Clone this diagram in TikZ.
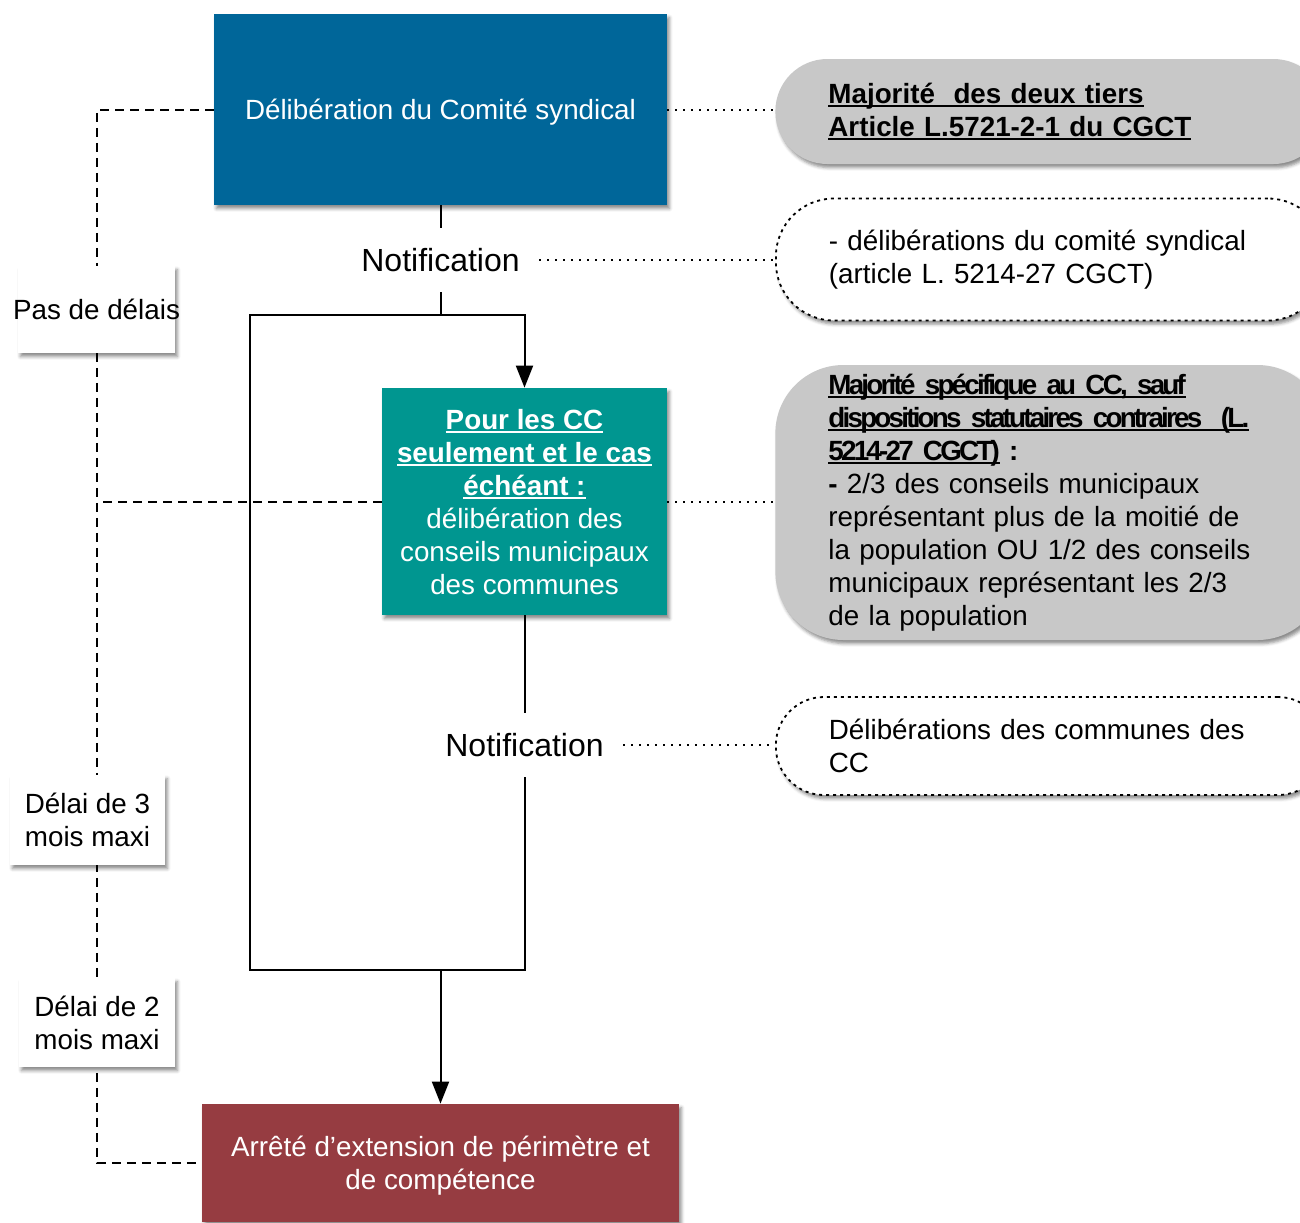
\documentclass[tikz,border=0pt]{standalone}
\usepackage{fontspec}
\setmainfont{Liberation Sans}
\newfontfamily\tightsans{Liberation Sans}[LetterSpace=-10, WordSpace=0.4]
\usetikzlibrary{arrows.meta,shadows.blur}

\definecolor{syndblue}{RGB}{0,102,153}
\definecolor{ccteal}{RGB}{0,150,144}
\definecolor{arretered}{RGB}{150,60,65}
\definecolor{notegray}{RGB}{200,200,200}

% underline drawn at a fixed depth below the baseline
\newsavebox\ulbox
\newcommand\ul[1]{\leavevmode\sbox\ulbox{#1}\rlap{\rule[-1.8pt]{\wd\ulbox}{0.9pt}}\usebox\ulbox}

\begin{document}
\begin{tikzpicture}[x=0.5pt,y=-0.5pt,
  base/.style={font=\fontsize{13.9}{16.5}\selectfont},
  softshadow/.style={blur shadow={shadow xshift=1.2pt, shadow yshift=-1.8pt,
      shadow blur radius=1.6pt, shadow opacity=45}},
  stage/.style={base, rectangle, text=white, align=center, inner sep=0pt,
      text depth=0pt, softshadow},
  notif/.style={font=\fontsize{16}{19}\selectfont, minimum height=32pt,
      inner xsep=9.5pt, inner ysep=0pt},
  delay/.style={base, rectangle, fill=white, align=center, inner sep=0pt, softshadow},
  note/.style={base, anchor=west, align=left, text width=222pt,
      inner xsep=26.5pt, softshadow},
  notedash/.style={draw, line width=0.9pt, dash pattern=on 1.5pt off 2pt},
  flow/.style={line width=1pt},
  arrowflow/.style={flow, -{Triangle[length=11pt,width=8.5pt]}},
  delayline/.style={line width=1pt, dash pattern=on 4.5pt off 3pt},
  noteline/.style={line width=1pt, dash pattern=on 1pt off 3pt},
]
\clip (0,0) rectangle (1300,1222);

% main stages
\node[stage, fill=syndblue, minimum width=226.5pt, minimum height=95.5pt]
  (delib) at (440.5,109.5) {Délibération du Comité syndical};
\node[notif] (notif1) at (440.5,260) {Notification};
\coordinate (split) at (440.5,315);
\node[stage, fill=ccteal, minimum width=142.5pt, minimum height=113.5pt]
  (cc) at (524.5,501.5)
  {\bfseries\ul{Pour les CC}\\\bfseries\ul{seulement et le cas}\\\bfseries\ul{échéant :}\\
   délibération des\\conseils municipaux\\des communes};
\node[notif] (notif2) at (524.5,745) {Notification};
\coordinate (loopBR) at (524.5,970);
\coordinate (loopBL) at (250,970);
\coordinate (loopTL) at (250,315);
\coordinate (join) at (440.5,970);
\node[stage, fill=arretered, minimum width=238.5pt, minimum height=59pt]
  (arrete) at (440.5,1163) {Arrêté d’extension de périmètre et\\de compétence};

% solid flow
\draw[flow] (delib.south) -- (notif1.north);
\draw[flow] (notif1.south) -- (split);
\draw[arrowflow] (split) -| (cc.north);
\draw[flow] (cc.south) -- (notif2.north);
\draw[flow] (notif2.south) -- (loopBR) -- (loopBL) -- (loopTL) -- (split);
\draw[arrowflow] (join) -- (arrete.north);

% time limits on the left
\coordinate (dTop) at (97,109.5);
\coordinate (dBot) at (97,1163);
\draw[delayline] (delib.west) -- (dTop) -- (dBot) -- (arrete.west);
\draw[delayline] (cc.west) -- (cc.west -| dTop);

\node[delay, minimum width=78.5pt, minimum height=43.5pt] (nodelay) at (96.5,309.5)
  {\makebox[0pt]{Pas de délais}};
\node[delay, minimum width=77.5pt, minimum height=45pt] (threemonths) at (87.5,820)
  {Délai de 3\\mois maxi};
\node[delay, minimum width=78pt, minimum height=44.5pt] (twomonths) at (97,1022.5)
  {Délai de 2\\mois maxi};

% legal notes on the right
\node[note, fill=notegray, minimum height=52.5pt, rounded corners=26pt] (c1) at (775,111.5)
  {\bfseries\ul{Majorité\ \ des deux tiers}\\\ul{Article L.5721-2-1 du CGCT}};
\node[note, fill=white, notedash, minimum height=61pt, rounded corners=29pt] (c2) at (775,259.5)
  {- délibérations du comité syndical\\(article L. 5214-27 CGCT)};
\node[note, fill=notegray, minimum height=137.5pt, rounded corners=34pt] (c3) at (775,502.5)
  {{\tightsans\bfseries\ul{Majorité spécifique au CC, sauf}}\\
   {\tightsans\bfseries\ul{dispositions statutaires contraires\ \ (L.}}\\
   {\tightsans\bfseries\ul{5214-27 CGCT)} :}\\
   {\bfseries -} 2/3 des conseils municipaux\\
   représentant plus de la moitié de\\
   la population OU 1/2 des conseils\\
   municipaux représentant les 2/3\\
   de la population};
\node[note, fill=white, notedash, minimum height=49pt, rounded corners=24pt] (c4) at (775,746)
  {Délibérations des communes des\\CC};

\draw[noteline] (delib.east) -- (delib.east -| c1.west);
\draw[noteline] (notif1.east) -- (notif1.east -| c2.west);
\draw[noteline] (cc.east) -- (cc.east -| c3.west);
\draw[noteline] (notif2.east) -- (notif2.east -| c4.west);
\end{tikzpicture}
\end{document}
